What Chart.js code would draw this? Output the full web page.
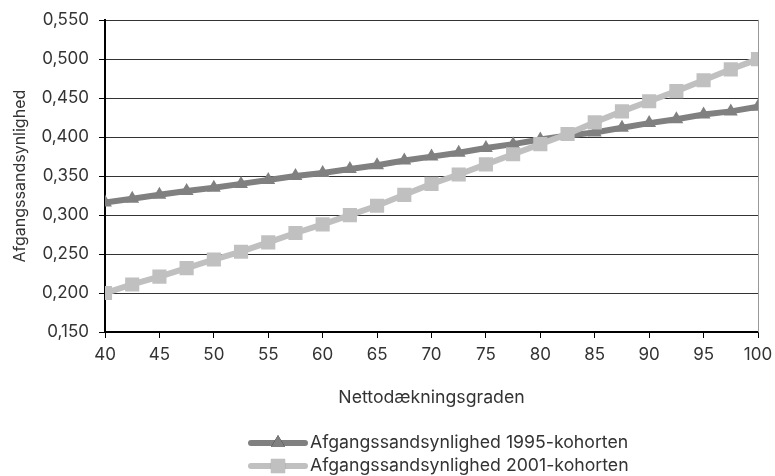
<!DOCTYPE html>
<html>
<head>
<meta charset="utf-8">
<script src="https://cdn.jsdelivr.net/npm/chart.js@4"></script>
<style>
  html, body { margin: 0; padding: 0; background: #fff; }
  #wrap { width: 775px; height: 476px; }
</style>
</head>
<body>
<div id="wrap"><canvas id="chart" width="775" height="476"></canvas></div>
<script>
// nettodækningsgrad (x) and the two cohorts
const daekning = [40, 42.5, 45, 47.5, 50, 52.5, 55, 57.5, 60, 62.5, 65, 67.5, 70,
    72.5, 75, 77.5, 80, 82.5, 85, 87.5, 90, 92.5, 95, 97.5, 100];
const kohorte1995 = [0.316, 0.321, 0.326, 0.331, 0.335, 0.340, 0.345, 0.350, 0.354, 0.359,
    0.364, 0.370, 0.375, 0.380, 0.386, 0.391, 0.397, 0.402, 0.406, 0.412, 0.418, 0.423,
    0.429, 0.433, 0.439];
const kohorte2001 = [0.200, 0.211, 0.221, 0.232, 0.243, 0.253, 0.265, 0.277, 0.288, 0.300,
    0.312, 0.326, 0.340, 0.352, 0.365, 0.378, 0.391, 0.404, 0.419, 0.433, 0.446, 0.459,
    0.473, 0.487, 0.500];
const labels = ["Afgangssandsynlighed 1995-kohorten", "Afgangssandsynlighed 2001-kohorten"];
const yTitle = "Afgangssandsynlighed";
const xTitle = "Nettodækningsgraden";

const FONT = "Inter, 'Noto Sans', sans-serif";
const TXT = "#333";

function toPoints(ys) {
    return ys.map((y, i) => ({ x: daekning[i], y: y }));
}

// legend drawn underneath, line sample with marker in the middle
const bottomLegend = {
    id: "bottomLegend",
    afterDraw(chart) {
        const ctx = chart.ctx;
        const area = chart.chartArea;
        ctx.save();
        ctx.font = "17.7px " + FONT;
        const sample = 60, gap = 2;
        const x0 = 248;
        chart.data.datasets.forEach((ds, i) => {
            const y = chart.height - 33 + i * 23;
            ctx.strokeStyle = ds.borderColor;
            ctx.lineWidth = 6;
            ctx.lineCap = "round";
            ctx.beginPath();
            ctx.moveTo(x0 + 3, y);
            ctx.lineTo(x0 + sample - 3, y);
            ctx.stroke();
            Chart.helpers.drawPoint(ctx, {
                pointStyle: ds.pointStyle,
                radius: ds.pointRadius,
                borderWidth: 0
            }, x0 + sample / 2, y);
            ctx.fillStyle = ds.borderColor;
            ctx.fill();
            ctx.fillStyle = TXT;
            ctx.textAlign = "left";
            ctx.textBaseline = "middle";
            ctx.fillText(ds.label, x0 + sample + gap, y);
        });
        // grey right frame edge
        ctx.strokeStyle = "#999";
        ctx.lineWidth = 1;
        ctx.beginPath();
        ctx.moveTo(area.right + 0.5, area.top);
        ctx.lineTo(area.right + 0.5, area.bottom);
        ctx.stroke();
        ctx.restore();
    }
};

new Chart(document.getElementById("chart"), {
    type: "line",
    data: {
        datasets: [
            {
                label: labels[0],
                data: toPoints(kohorte1995),
                borderColor: "#808080",
                backgroundColor: "#808080",
                borderWidth: 6,
                pointStyle: "triangle",
                pointRadius: 8,
                pointBorderWidth: 0,
                pointBackgroundColor: "#808080",
                tension: 0,
                order: 1
            },
            {
                label: labels[1],
                data: toPoints(kohorte2001),
                borderColor: "#c0c0c0",
                backgroundColor: "#c0c0c0",
                borderWidth: 6,
                pointStyle: "rect",
                pointRadius: 10,
                pointBorderWidth: 0,
                pointBackgroundColor: "#c0c0c0",
                tension: 0,
                order: 0
            }
        ]
    },
    options: {
        responsive: false,
        animation: false,
        layout: { padding: { top: 19, right: 0, bottom: 64, left: 11 } },
        plugins: {
            legend: { display: false },
            tooltip: { enabled: false }
        },
        scales: {
            x: {
                type: "linear",
                min: 40,
                max: 100,
                afterFit(scale) {
                    scale.height = 80;
                    scale.paddingRight = 17;
                },
                ticks: {
                    stepSize: 5,
                    color: TXT,
                    font: { family: FONT, size: 17 },
                    padding: 7
                },
                grid: {
                    drawOnChartArea: false,
                    drawTicks: true,
                    tickLength: 6,
                    color: "#000"
                },
                border: { color: "#000", width: 2 },
                title: {
                    display: true,
                    text: xTitle,
                    color: TXT,
                    font: { family: FONT, size: 17.7 },
                    padding: { top: 9 }
                }
            },
            y: {
                min: 0.15,
                max: 0.55,
                afterFit(scale) { scale.width = 94; },
                ticks: {
                    stepSize: 0.05,
                    color: TXT,
                    font: { family: FONT, size: 17 },
                    padding: 10,
                    callback: v => v.toFixed(3).replace(".", ",")
                },
                grid: {
                    color: "#333",
                    lineWidth: 1,
                    tickLength: 6,
                    tickColor: "#000"
                },
                border: { color: "#000", width: 2 },
                title: {
                    display: true,
                    text: yTitle,
                    color: TXT,
                    font: { family: FONT, size: 16 },
                    padding: 0
                }
            }
        }
    },
    plugins: [bottomLegend]
});
</script>
</body>
</html>
